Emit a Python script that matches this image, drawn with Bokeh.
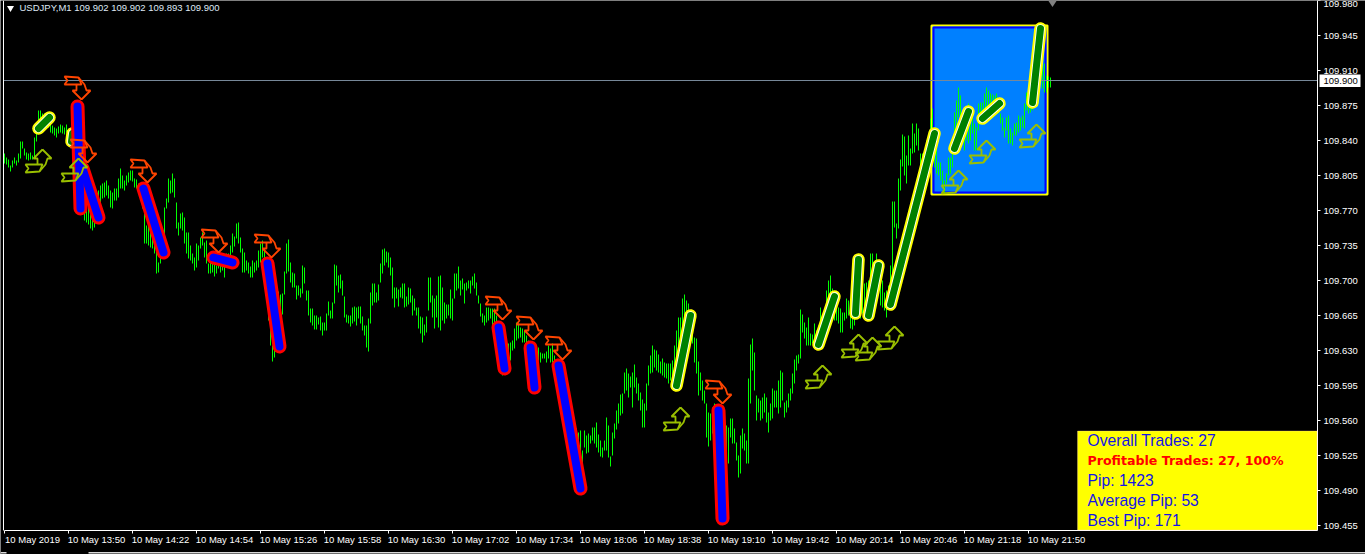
from bokeh.plotting import figure
from bokeh.models import (Range1d, LinearAxis, FixedTicker, NumeralTickFormatter, Label, BoxAnnotation)
from bokeh.embed import file_html
from bokeh.resources import INLINE

# one bar a minute from 13:18; prices as thousandths above 109
bar_high = [
827,823,821,815,820,823,820,827,839,839, 832,828,827,828,825,843,848,870,870,867,
867,865,863,857,855,853,852,854,856,855, 853,856,852,850,845,840,830,815,805,800,
781,780,777,773,770,773,782,790,795,797, 798,800,795,790,788,792,792,802,812,805,
800,805,808,810,810,802,801,797,792,785, 767,755,757,752,748,748,730,718,723,743,
773,782,802,800,807,802,778,758,767,768, 763,748,748,735,727,723,737,735,743,748,
738,740,717,718,717,717,715,727,717,725, 717,727,727,735,747,744,757,758,743,732,
728,720,718,714,720,718,720,730,737,740, 730,722,710,680,635,635,673,689,686,687,
709,737,741,718,708,707,695,695,692,715, 713,690,690,672,672,665,665,663,664,658,
658,667,679,670,678,716,715,705,706,700, 684,666,665,665,673,674,673,674,674,664,
655,655,662,688,697,697,688,696,717,731, 732,729,728,723,713,693,693,691,693,697,
697,684,693,692,685,682,673,673,664,663, 656,664,703,703,685,682,685,704,705,693,
678,676,676,691,682,707,707,714,700,702, 697,698,700,700,704,707,698,685,677,667,
665,673,673,672,672,672,665,655,640,623, 627,633,637,638,640,652,658,657,653,652,
650,645,640,638,635,633,634,633,628,627, 627,629,635,632,637,625,618,610,595,585,
575,565,555,550,540,530,552,548,550,530, 550,545,547,545,553,553,558,546,540,533,
540,563,555,524,548,557,570,577,586,587, 608,612,607,604,608,616,603,597,588,581,
577,597,615,625,635,631,630,626,619,622, 618,617,617,617,620,635,650,663,663,682,
686,680,677,670,653,643,642,619,608,600, 590,577,568,567,573,577,575,570,565,560,
558,555,553,562,562,552,538,525,545,552, 547,540,602,636,642,628,585,582,580,583,
587,583,568,577,592,590,590,600,610,608, 578,580,587,592,607,621,625,626,671,666,
658,653,663,647,646,657,650,655,673,660, 663,690,700,705,692,675,675,673,672,668,
668,682,680,670,662,668,685,695,700,695, 697,698,700,727,727,718,727,717,708,700,
688,690,695,715,779,779,757,802,821,846, 844,825,845,832,857,847,857,852,827,827,
827,840,832,862,872,847,837,818,818,810, 800,807,823,823,827,868,880,893,885,867,
857,870,877,873,863,857,853,877,878,878, 887,893,890,887,886,885,887,883,867,863,
853,863,865,852,848,857,858,865,863,865, 877,888,888,883,885,895,910,925,930,930,
917,905,904,903]
bar_low = [
817,816,813,809,813,817,815,818,822,832, 825,821,820,821,821,822,839,860,857,857,
857,855,853,848,847,845,843,847,848,847, 846,848,842,838,830,825,810,795,785,780,
760,758,756,752,750,753,764,768,777,782, 783,785,782,773,772,780,780,783,792,792,
790,795,798,800,799,793,792,787,780,772, 737,737,735,733,732,727,707,708,717,725,
737,772,778,787,788,783,752,745,752,750, 737,727,722,720,717,710,713,720,732,735,
723,717,707,707,708,704,707,712,708,710, 703,715,717,720,728,734,742,737,728,708,
708,710,707,703,703,708,710,713,718,723, 710,695,660,635,619,623,650,660,660,666,
686,707,709,698,693,693,681,685,683,687, 697,680,665,658,655,651,651,656,650,645,
650,650,665,662,662,677,695,688,692,685, 663,658,657,654,657,659,655,662,657,650,
645,633,629,657,675,678,678,680,698,707, 715,718,713,705,682,673,682,674,683,682,
673,674,676,678,665,670,665,652,647,638, 645,648,670,678,663,652,663,653,650,660,
657,662,665,662,660,682,690,692,685,691, 677,690,692,687,695,692,685,677,664,658,
655,658,660,662,655,658,645,635,620,605, 610,618,622,620,630,632,640,642,643,638,
638,630,625,622,620,617,622,620,618,622, 622,618,622,618,618,610,602,595,575,565,
555,545,535,530,522,515,533,528,525,514, 533,527,528,537,540,537,533,528,524,523,
530,530,523,514,525,542,551,557,565,567, 587,590,583,593,573,593,587,580,570,553,
553,570,595,607,608,613,610,608,607,605, 603,602,597,600,595,605,615,627,630,643,
650,653,650,643,637,618,607,585,590,580, 577,543,534,540,547,550,540,530,525,520,
522,520,517,543,537,537,520,503,507,532, 530,517,517,577,610,590,560,568,560,562,
568,558,548,560,562,573,573,567,573,580, 563,568,573,580,587,597,610,617,622,648,
642,635,635,635,637,637,633,635,643,647, 650,668,677,673,670,660,660,657,648,648,
660,662,665,652,651,655,665,670,662,667, 670,680,683,693,700,693,697,687,675,673,
670,663,675,685,707,753,742,752,790,814, 805,797,815,815,827,828,835,830,815,810,
815,805,805,822,847,813,807,805,800,795, 787,797,805,807,813,827,830,863,857,837,
830,840,837,840,847,830,830,850,857,860, 865,870,872,873,873,873,870,867,857,850,
843,850,837,837,835,845,845,848,850,853, 852,870,867,868,870,875,885,895,900,892,
888,888,893,893]

# trades: minutes and thousandths
buy_t0 = [17, 33.5, 336, 407, 425.5, 432, 443, 475, 489, 514]
buy_p0 = [852, 839, 595, 636, 667, 665, 676, 832, 862, 878]
buy_t1 = [22.5, 34, 343, 415, 427, 437, 465, 482, 497.5, 518]
buy_p1 = [863, 847, 665, 684, 721, 715, 847, 869, 877, 952]
sell_t0 = [36.5, 39, 69.5, 104.5, 131.5, 247, 263, 277, 357]
sell_p0 = [874, 812, 792, 723, 717, 653, 633, 615, 570]
sell_t1 = [38, 47, 79.5, 114, 137.5, 250, 265, 288, 359]
sell_p1 = [772, 763, 728, 718, 634, 612, 593, 492, 462]

up_t = [19, 37, 338, 409, 427, 434, 445, 477, 491, 516]
up_p = [831, 822, 573, 615, 646, 643, 654, 810, 840, 856]
down_t = [38.5, 41.5, 71.5, 107, 133.5, 249, 264.5, 279, 359]
down_p = [881, 818, 798, 728, 723, 661, 641, 621, 577]

tick_prices = [109.980, 109.945, 109.910, 109.875, 109.840, 109.805, 109.770, 109.735,
               109.700, 109.665, 109.630, 109.595, 109.560, 109.525, 109.490, 109.455]
tick_labels = ["10 May 2019", "10 May 13:50", "10 May 14:22", "10 May 14:54", "10 May 15:26",
               "10 May 15:58", "10 May 16:30", "10 May 17:02", "10 May 17:34", "10 May 18:06",
               "10 May 18:38", "10 May 19:10", "10 May 19:42", "10 May 20:14", "10 May 20:46",
               "10 May 21:18", "10 May 21:50"]
panel_lines = ["Overall Trades: 27", "Profitable Trades: 27, 100%", "Pip: 1423",
               "Average Pip: 53", "Best Pip: 171"]
header = "USDJPY,M1  109.902 109.902 109.893 109.900"
last_close = 109.900

FONT = "Liberation Sans"
FS = "9.5px"
AXIS_T = 656.5       # time coordinate of the price axis
AXIS_P = 109.45      # price coordinate of the time axis


def pr(v):
    return 109 + v / 1000


def px_t(x):
    return (x - 4) / 2


def px_p(y):
    return 109.98 - y / 1000


p = figure(frame_width=1365, frame_height=554, width=1365, height=554,
           x_range=Range1d(px_t(0), px_t(1365)), y_range=Range1d(px_p(554), px_p(0)),
           output_backend="svg", toolbar_location=None, x_axis_location=None, y_axis_location=None,
           background_fill_color="black", border_fill_color="black",
           min_border_left=0, min_border_right=0, min_border_top=0, min_border_bottom=0)
p.styles = {"position": "absolute", "left": "0px", "top": "0px"}
p.grid.visible = False
p.outline_line_color = None

yax = LinearAxis(fixed_location=AXIS_T, bounds=(AXIS_P, 109.98),
                 ticker=FixedTicker(ticks=tick_prices),
                 formatter=NumeralTickFormatter(format="0.000"),
                 axis_line_color="white", major_tick_line_color="white", minor_tick_line_color=None,
                 major_tick_out=3, major_tick_in=0, major_label_text_color="white",
                 major_label_text_font=FONT, major_label_text_font_size=FS, major_label_standoff=3)
p.add_layout(yax, "right")

# tick marks sit at the bar times; the labels are centred on the text that starts at each tick
label_shift = 14
xticks = [32 * i for i in range(len(tick_labels))]
label_ticks = [k + label_shift for k in xticks]
xax = LinearAxis(fixed_location=AXIS_P, bounds=(0, AXIS_T),
                 ticker=FixedTicker(ticks=label_ticks, minor_ticks=xticks),
                 major_label_overrides={k: s for k, s in zip(label_ticks, tick_labels)},
                 axis_line_color="white", major_tick_line_color=None, minor_tick_line_color="white",
                 major_tick_out=3, major_tick_in=0, minor_tick_out=3, minor_tick_in=0,
                 major_label_text_color="white", major_label_text_font=FONT,
                 major_label_text_font_size=FS, major_label_standoff=0)
p.add_layout(xax, "below")

lax = LinearAxis(fixed_location=px_t(3), bounds=(AXIS_P, 109.98), ticker=FixedTicker(ticks=[]),
                 axis_line_color="white", major_tick_line_color=None, minor_tick_line_color=None)
p.add_layout(lax, "left")

# highlighted box of the last trades
box_t = [463.5, 521.5]
box_p = [786, 955]
p.quad(left=[box_t[0]], right=[box_t[1]], bottom=[pr(box_p[0])], top=[pr(box_p[1])],
       fill_color="#0080ff", line_color="#ffff00", line_width=2)
p.quad(left=[box_t[0] + 1], right=[box_t[1] - 1], bottom=[pr(box_p[0] + 2)], top=[pr(box_p[1] - 2)],
       fill_color=None, line_color="#0000ff", line_width=2)

t = list(range(len(bar_high)))
p.segment(t, [pr(v) for v in bar_low], t, [pr(v) for v in bar_high], line_color="#00ff00", line_width=1)
p.segment([px_t(3)], [last_close], [AXIS_T], [last_close], line_color="#778899", line_width=1)

bx0, by0 = buy_t0, [pr(v) for v in buy_p0]
bx1, by1 = buy_t1, [pr(v) for v in buy_p1]
for c, w in (("#ffff00", 12.5), ("#ffffff", 8.7), ("#008000", 7)):
    p.segment(bx0, by0, bx1, by1, line_color=c, line_width=w, line_cap="round")
sx0, sy0 = sell_t0, [pr(v) for v in sell_p0]
sx1, sy1 = sell_t1, [pr(v) for v in sell_p1]
for c, w in (("#ff0000", 14), ("#0000ff", 8)):
    p.segment(sx0, sy0, sx1, sy1, line_color=c, line_width=w, line_cap="round")

# outline arrows, tip at the anchor; offsets in pixels
shape = [(0, 0), (9, 9), (5, 9), (3, 15), (-3, 22), (-17, 23), (-14, 19), (-17, 15), (-5, 15), (-5, 9), (-9, 9), (0, 0)]
inner = [(-5, 15), (0, 15), (-3, 22)]


def arrows(ts, ps, sign, color):
    xs, ys = [], []
    for a, b in zip(ts, ps):
        for path in (shape, inner):
            xs.append([a + dx / 2 for dx, dy in path])
            ys.append([pr(b) - sign * dy / 1000 for dx, dy in path])
    p.multi_line(xs, ys, line_color=color, line_width=1.8)


arrows(up_t, up_p, 1, "#9abf00")
arrows(down_t, down_p, -1, "#ff4500")

p.scatter([px_t(10)], [px_p(7.5)], marker="inverted_triangle", size=7, fill_color="white", line_color=None)
p.scatter([524], [109.98], marker="diamond", size=13, fill_color="#808080", line_color=None)
p.add_layout(Label(x=px_t(19), y=px_p(7), text=header, text_color="#dfe8f5", text_font=FONT,
                   text_font_size=FS, text_baseline="middle"))

# white tag of the last price on the axis
p.add_layout(BoxAnnotation(left=px_t(1319), right=px_t(1360), top=px_p(74), bottom=px_p(86.5),
                           fill_color="white", fill_alpha=1, line_color=None, level="overlay"))
p.add_layout(Label(x=px_t(1323), y=last_close, text="109.900", text_color="black", text_font=FONT,
                   text_font_size=FS, text_baseline="middle", level="overlay"))

# yellow statistics panel
p.add_layout(BoxAnnotation(left=px_t(1077), right=px_t(1316.5), top=px_p(430.5), bottom=px_p(529.5),
                           fill_color="#ffff00", fill_alpha=1, line_color="#ffc8c8", line_width=1, level="overlay"))
ys_panel = [440, 459.5, 479.5, 500, 520]
for i, (s, yy) in enumerate(zip(panel_lines, ys_panel)):
    bold = i == 1
    p.add_layout(Label(x=px_t(1087), y=px_p(yy), text=s, text_color="#ff0000" if bold else "#1414e6",
                       text_font="DejaVu Sans" if bold else "Liberation Sans",
                       text_font_style="bold" if bold else "normal",
                       text_font_size="12.6px" if bold else "15.7px", text_baseline="middle", level="overlay"))

# window edge below the chart
for a, b in ((0, 6), (88, 1365)):
    p.add_layout(BoxAnnotation(left=px_t(a), right=px_t(b), top=px_p(551.5), bottom=px_p(553),
                               fill_color="#d8d8d8", fill_alpha=1, line_color=None))

open("out.html", "w").write(file_html(p, INLINE))
